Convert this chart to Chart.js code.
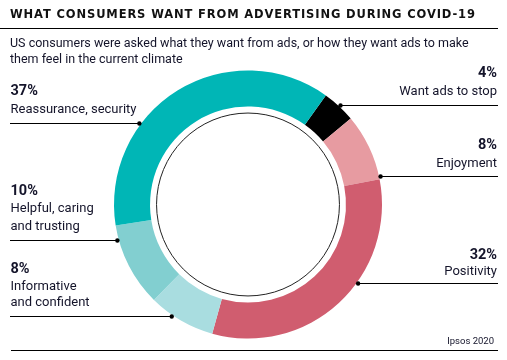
<!DOCTYPE html>
<html>
<head>
<meta charset="utf-8">
<script src="https://cdn.jsdelivr.net/npm/chart.js@4/dist/chart.umd.min.js"></script>
<style>
  html, body { margin:0; padding:0; background:#fff; }
  #wrap { position:relative; width:507px; height:360px; overflow:hidden; }
  #c { position:absolute; left:0; top:0; }
  .t { position:absolute; white-space:nowrap; color:#14142a; }
</style>
</head>
<body>
<div id="wrap"><canvas id="c" width="507" height="360"></canvas></div>
<script>
// ---- data ----
const titleText = 'WHAT CONSUMERS WANT FROM ADVERTISING DURING COVID-19';
const subtitleLines = ['US consumers were asked what they want from ads, or how they want ads to make', 'them feel in the current climate'];
const sourceText = 'Ipsos 2020';
const categories = ['Want ads to stop', 'Enjoyment', 'Positivity', 'Informative and confident', 'Helpful, caring and trusting', 'Reassurance, security'];
const labelLines = [['Want ads to stop'], ['Enjoyment'], ['Positivity'], ['Informative', 'and confident'], ['Helpful, caring', 'and trusting'], ['Reassurance, security']];
const values = [4, 8, 32, 8, 10, 37];
const colors = ['#000000', '#E79BA1', '#D05D6F', '#A9DDE0', '#82CFD0', '#00B6B6'];

// ---- layout (positions only) ----
const labelLayout = [
  {side:'right', pctY:71.3, textY:[90.7], lineY:105},
  {side:'right', pctY:143.7, textY:[162.2], lineY:175.7},
  {side:'right', pctY:253, textY:[270.5], lineY:283.3},
  {side:'left', pctY:267, textY:[285.5, 301.3], lineY:315.7},
  {side:'left', pctY:189.7, textY:[207.8, 225.5], lineY:240},
  {side:'left', pctY:89.5, textY:[108], lineY:123.3}
];
const FONT = 'Roboto, "Open Sans", sans-serif';
const TITLE_FONT = '"DejaVu Sans", Roboto, sans-serif';
const wrap = document.getElementById('wrap');
const mctx = document.createElement('canvas').getContext('2d');

function addText(text, size, weight, capCenterY, x, align, extra, family) {
  const fam = family || FONT;
  const L = Math.round(size * 1.3);
  const font = weight + ' ' + size + 'px ' + fam;
  mctx.font = font;
  const m = mctx.measureText('H');
  const A = m.fontBoundingBoxAscent, D = m.fontBoundingBoxDescent;
  const cap = m.actualBoundingBoxAscent;
  const baseFromTop = (L - (A + D)) / 2 + A;
  const top = capCenterY - (baseFromTop - cap / 2);
  const d = document.createElement('div');
  d.className = 't';
  d.textContent = text;
  d.style.font = font;
  d.style.lineHeight = L + 'px';
  d.style.top = top + 'px';
  if (align === 'right') d.style.right = (507 - x) + 'px'; else d.style.left = x + 'px';
  if (extra) Object.assign(d.style, extra);
  wrap.appendChild(d);
  return d;
}

// title with letter spacing fitted to span
(function(){
  const size = 11.5;
  mctx.font = 'bold ' + size + 'px ' + TITLE_FONT;
  const w = mctx.measureText(titleText).width;
  const ls = Math.max((465 - w) / (titleText.length - 1), 0);
  addText(titleText, size, 'bold', 14, 10, 'left', {letterSpacing: ls + 'px', color:'#111'}, TITLE_FONT);
})();
addText(subtitleLines[0], 12.5, 'normal', 42.8, 10, 'left');
addText(subtitleLines[1], 12.5, 'normal', 58.8, 10, 'left');
addText(sourceText, 9.5, 'normal', 341, 494, 'right');

labelLayout.forEach((lay, i) => {
  const x = lay.side === 'right' ? 497 : 10.5;
  addText(values[i] + '%', 14.5, 'bold', lay.pctY, x, lay.side);
  labelLines[i].forEach((ln, j) => addText(ln, 13, 'normal', lay.textY[j], x, lay.side));
});

const decor = {
  id: 'decor',
  afterDraw(chart) {
    const ctx = chart.ctx;
    const arc = chart.getDatasetMeta(0).data[0];
    const cx = arc.x, cy = arc.y, R = arc.outerRadius, r = arc.innerRadius;
    ctx.save();
    // inner thin circle
    ctx.strokeStyle = '#222';
    ctx.lineWidth = 1;
    ctx.beginPath();
    ctx.arc(cx, cy, r - 6.5, 0, Math.PI * 2);
    ctx.stroke();
    // rules
    ctx.strokeStyle = '#000';
    ctx.beginPath();
    ctx.moveTo(0, 28.5); ctx.lineTo(498, 28.5);
    ctx.moveTo(11, 350.5); ctx.lineTo(498, 350.5);
    ctx.stroke();
    // connectors
    labelLayout.forEach(lay => {
      const y = Math.round(lay.lineY) + 0.5;
      const Rd = R + 1.5;
      const dx = Math.sqrt(Math.max(Rd * Rd - (y - cy) * (y - cy), 0));
      const dotX = lay.side === 'right' ? cx + dx : cx - dx;
      ctx.beginPath();
      if (lay.side === 'right') { ctx.moveTo(dotX, y); ctx.lineTo(498, y); }
      else { ctx.moveTo(10, y); ctx.lineTo(dotX, y); }
      ctx.stroke();
      ctx.fillStyle = '#000';
      ctx.beginPath();
      ctx.arc(dotX, y, 2.2, 0, Math.PI * 2);
      ctx.fill();
    });
    ctx.restore();
  }
};

new Chart(document.getElementById('c'), {
  type: 'doughnut',
  data: {
    labels: categories,
    datasets: [{ data: values, backgroundColor: colors, borderWidth: 0, hoverOffset: 0 }]
  },
  options: {
    responsive: false,
    animation: false,
    rotation: 35.5,
    radius: 134,
    cutout: '73.1%',
    layout: { padding: { left: 0, right: 11, top: 49, bottom: 0 } },
    plugins: { legend: { display: false }, tooltip: { enabled: false } },
    events: []
  },
  plugins: [decor]
});
</script>
</body>
</html>
